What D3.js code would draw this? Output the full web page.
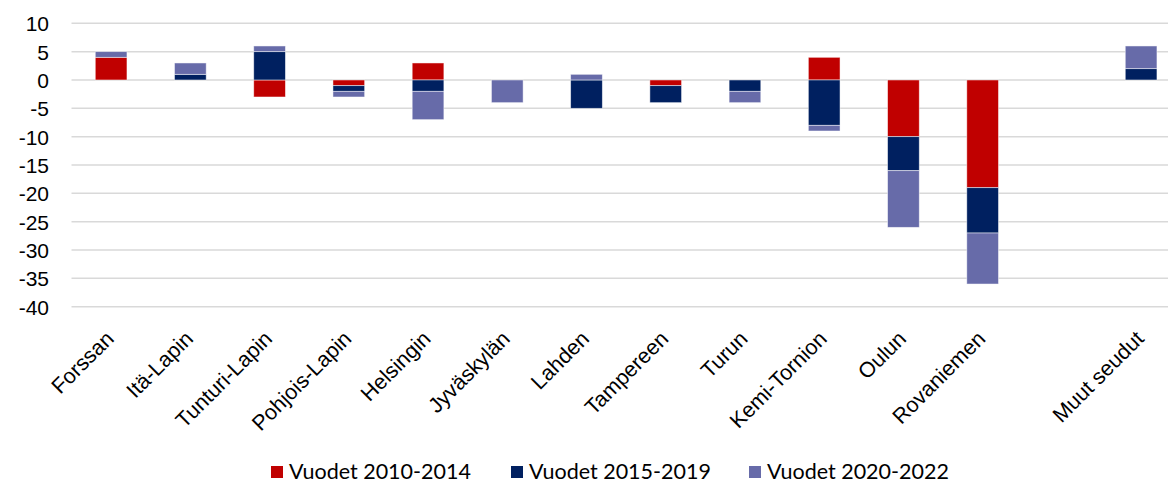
<!DOCTYPE html>
<html lang="fi">
<head>
  <meta charset="UTF-8">
  <title>Muutos seuduittain</title>
  <script src="https://cdn.jsdelivr.net/npm/d3@7"></script>
  <style>
    * { margin: 0; padding: 0; box-sizing: border-box; }
    body { background: #fff; width: 1168px; height: 486px; overflow: hidden; }
    svg { display: block; font-family: Lato, 'Open Sans', sans-serif; }
    .grid line { stroke: #d9d9d9; stroke-width: 1.5px; }
    .tick text { fill: #000; }
  </style>
</head>
<body>
  <svg width="1168" height="486"></svg>
  <script>
    // data
    var categories = ["Forssan", "Itä-Lapin", "Tunturi-Lapin", "Pohjois-Lapin", "Helsingin", "Jyväskylän",
      "Lahden", "Tampereen", "Turun", "Kemi-Tornion", "Oulun", "Rovaniemen", "", "Muut seudut"];
    var v2010 = [4, 0, -3, -1, 3, 0, 0, -1, 0, 4, -10, -19, 0, 0];
    var v2015 = [0, 1, 5, -1, -2, 0, -5, -3, -2, -8, -6, -8, 0, 2];
    var v2020 = [1, 2, 1, -1, -5, -4, 1, 0, -2, -1, -10, -9, 0, 4];
    var seriesNames = ["Vuodet 2010-2014", "Vuodet 2015-2019", "Vuodet 2020-2022"];
    var yTicks = [10, 5, 0, -5, -10, -15, -20, -25, -30, -35, -40];
    var colors = ["#c00000", "#002060", "#676ba9"];

    var rows = categories.map(function(c, i) {
      return { cat: c, s0: v2010[i], s1: v2015[i], s2: v2020[i] };
    });

    var svg = d3.select("svg");

    var x = d3.scaleBand()
      .domain(d3.range(categories.length))
      .range([71.5, 71.5 + 14 * 79.23])
      .paddingInner(0.6)
      .paddingOuter(0.3);

    var y = d3.scaleLinear().domain([-40, 10]).range([306.7, 23.3]);

    // gridlines
    svg.append("g").attr("class", "grid")
      .selectAll("line").data(yTicks).enter().append("line")
      .attr("x1", 71.5).attr("x2", 1168)
      .attr("y1", function(d) { return y(d); })
      .attr("y2", function(d) { return y(d); });

    // y axis labels (plain hyphen like excel)
    var yAxis = svg.append("g")
      .attr("transform", "translate(49,0)")
      .call(d3.axisLeft(y).tickValues(yTicks).tickSize(0).tickPadding(0)
        .tickFormat(function(d) { return String(d); }));
    yAxis.select(".domain").remove();
    yAxis.selectAll("text").style("font-size", "21px").attr("dy", "0.36em");

    // stacked bars
    var stack = d3.stack().keys(["s0", "s1", "s2"]).offset(d3.stackOffsetDiverging);
    var layers = stack(rows);

    svg.append("g").selectAll("g").data(layers).enter().append("g")
      .attr("fill", function(d, i) { return colors[i]; })
      .selectAll("rect")
      .data(function(d) { return d.map(function(p, j) { return { p: p, j: j }; }); })
      .enter()
      .filter(function(d) { return d.p[0] !== d.p[1]; })
      .append("rect")
      .attr("x", function(d) { return x(d.j); })
      .attr("width", x.bandwidth())
      .attr("y", function(d) { return y(Math.max(d.p[0], d.p[1])); })
      .attr("height", function(d) { return Math.abs(y(d.p[0]) - y(d.p[1])); })
      .attr("stroke", "#fff")
      .attr("stroke-opacity", 0.6)
      .attr("stroke-width", 0.8);

    // x labels
    var xAxis = svg.append("g")
      .attr("transform", "translate(0,318)")
      .call(d3.axisBottom(x).tickSize(0).tickFormat(function(i) { return categories[i]; }));
    xAxis.select(".domain").remove();
    xAxis.selectAll("text")
      .style("font-size", "21.5px")
      .attr("text-anchor", "end")
      .attr("x", 0).attr("y", 0).attr("dy", 0)
      .attr("transform", "translate(4,22) rotate(-45)");

    // legend
    var legendX = [271, 511, 749];
    var legend = svg.append("g").selectAll("g").data(seriesNames).enter().append("g")
      .attr("transform", function(d, i) { return "translate(" + legendX[i] + ",466)"; });
    legend.append("rect").attr("width", 12).attr("height", 12)
      .attr("fill", function(d, i) { return colors[i]; });
    legend.append("text").attr("x", 18).attr("y", 13)
      .style("font-size", "21.5px")
      .text(function(d) { return d; });
  </script>
</body>
</html>
